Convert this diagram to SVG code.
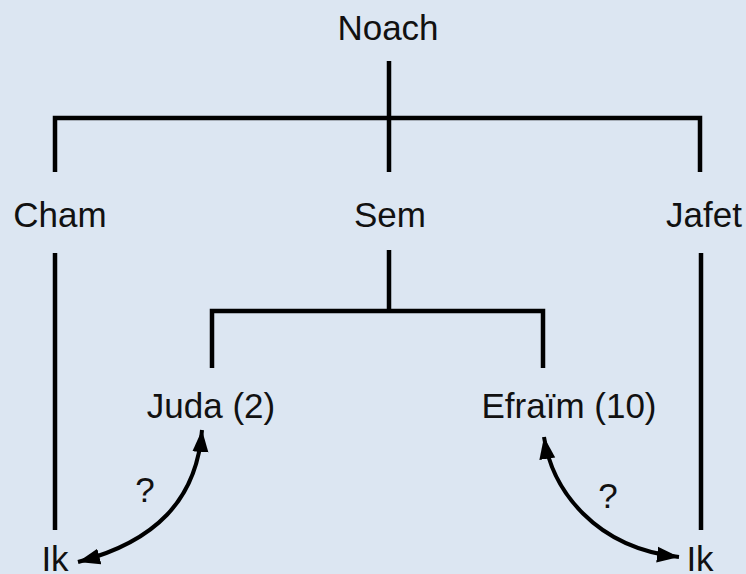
<svg xmlns="http://www.w3.org/2000/svg" width="746" height="574" viewBox="0 0 746 574">
<style>
.t{font-family:"Liberation Sans",Arial,sans-serif;font-size:35px;fill:#111;text-anchor:middle}
.l{stroke:#000;stroke-width:4.5;fill:none}
.c{stroke:#000;stroke-width:4;fill:none;marker-start:url(#ah);marker-end:url(#ah)}
</style>
<defs>
<marker id="ah" markerUnits="userSpaceOnUse" markerWidth="24" markerHeight="18" viewBox="0 0 24 18" refX="22" refY="9" orient="auto-start-reverse">
<path d="M0,1 L22,9 L0,17 Z" fill="#000"/>
</marker>
</defs>
<rect width="746" height="574" fill="#dce6f2"/>
<g id="connectors">
<path class="l" d="M389,61 V172"/>
<path class="l" d="M55,172 V118 H700 V172"/>
<path class="l" d="M55,253 V530"/>
<path class="l" d="M389,250 V311"/>
<path class="l" d="M212,368 V311 H543 V368"/>
<path class="l" d="M701,253 V530"/>
<path class="c" d="M202,430 C197,500 155,542 78,562"/>
<path class="c" d="M544,437 C552,490 595,548 679,557"/>
</g>
<g id="noach"><text class="t" x="388" y="40">Noach</text></g>
<g id="cham"><text class="t" x="60" y="227">Cham</text></g>
<g id="sem"><text class="t" x="390" y="227">Sem</text></g>
<g id="jafet"><text class="t" x="704" y="227">Jafet</text></g>
<g id="juda"><text class="t" x="211" y="418">Juda (2)</text></g>
<g id="efraim"><text class="t" x="569" y="418">Efraïm (10)</text></g>
<g id="ik-left"><text class="t" x="55" y="571">Ik</text></g>
<g id="ik-right"><text class="t" x="700" y="571">Ik</text></g>
<g id="q-left"><text class="t" x="145" y="502">?</text></g>
<g id="q-right"><text class="t" x="608" y="508">?</text></g>
</svg>
